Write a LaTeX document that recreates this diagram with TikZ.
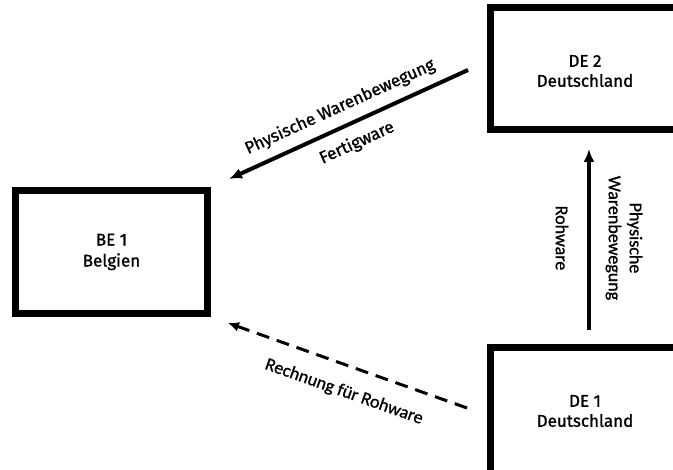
\documentclass[tikz,border=0pt]{standalone}
\usepackage{fontspec}
\setmainfont{Fira Sans}[FakeBold=1.2]
\newfontfamily\calib{Carlito}[FakeBold=1]
\usetikzlibrary{arrows.meta}
\begin{document}
\begin{tikzpicture}[x=1pt,y=-1pt,
  box/.style={draw=black,line width=7pt,fill=white,inner sep=0pt,align=center,font=\fontsize{17}{21}\selectfont},
  flow/.style={line width=4pt,-{Latex[length=13pt,width=11pt]}},
  bill/.style={line width=3pt,dash pattern=on 13pt off 8pt,-{Latex[length=11pt,width=10pt]}},
  lab/.style={font=\fontsize{17}{20}\selectfont,inner sep=0pt,align=center},
  clab/.style={font=\calib\fontsize{18}{21}\selectfont,inner sep=0pt,align=center}]
\useasboundingbox (0,0) rectangle (673,470);
\clip (0,0) rectangle (673,470);
\node[box,minimum width=192pt,minimum height=123pt] (be1) at (111.5,252) {BE 1\\Belgien};
\node[box,minimum width=200pt,minimum height=122pt] (de2) at (590.5,68.5) {};
\node[lab] at (585,71) {DE 2\\Deutschland};
\node[box,minimum width=200pt,minimum height=140pt] (de1) at (590.5,417.5) {};
\node[lab] at (585,411) {DE 1\\Deutschland};
\coordinate (a1s) at (468,70);
\coordinate (a1e) at (229,179);
\coordinate (a2s) at (467,408);
\coordinate (a2e) at (228,323);
\coordinate (a3s) at (589,330);
\coordinate (a3e) at (589,149);
\draw[flow] (a1s) -- (a1e);
\draw[bill] (a2s) -- (a2e);
\draw[flow] (a3s) -- (a3e);
\node[lab,rotate=24.5] at (340,107) {Physische Warenbewegung};
\node[lab,rotate=24.5] at (357,143) {Fertigware};
\node[clab,rotate=-19.5] at (344,392) {Rechnung für Rohware};
\node[clab,rotate=-90] at (562,238) {Rohware};
\node[clab,rotate=-90] at (624,238) {Physische\\Warenbewegung};
\end{tikzpicture}
\end{document}
